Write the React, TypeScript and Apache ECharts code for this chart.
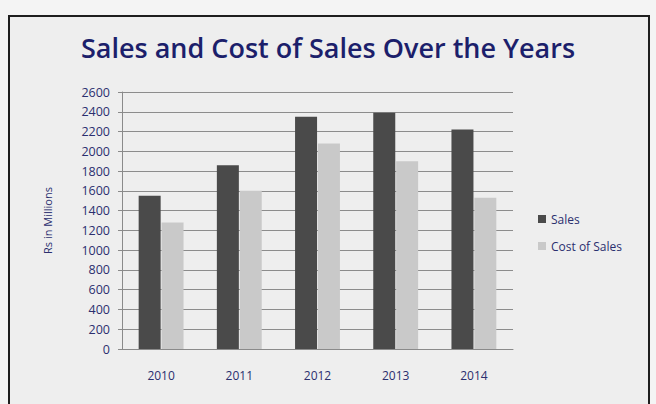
import React, { useEffect, useRef } from "react";
import * as echarts from "echarts";

const years = ["2010", "2011", "2012", "2013", "2014"];
const sales = [1550, 1860, 2350, 2390, 2220];
const costOfSales = [1280, 1600, 2080, 1900, 1530];
const seriesNames = ["Sales", "Cost of Sales"];

export default function App() {
  const ref = useRef<HTMLDivElement>(null);
  useEffect(() => {
    if (!ref.current) return;
    const chart = echarts.init(ref.current, undefined, { renderer: "svg" });
    const navy = "#2b2f6e";
    chart.setOption({
      animation: false,
      backgroundColor: "#f4f4f4",
      graphic: [
        {
          type: "rect",
          shape: { x: 9, y: 16, width: 640, height: 400 },
          style: { fill: "#eeeeee", stroke: "#1e1e1e", lineWidth: 2 },
          z: -10,
        },
      ],
      title: {
        text: "Sales and Cost of Sales Over the Years",
        left: "center",
        top: 29,
        textStyle: {
          fontFamily: "Open Sans",
          fontSize: 27,
          fontWeight: 600,
          color: "#1c1f6b",
        },
      },
      legend: {
        orient: "vertical",
        left: 533,
        top: 208,
        itemWidth: 8,
        itemHeight: 8,
        itemGap: 15,
        icon: "rect",
        textStyle: { fontFamily: "Open Sans", fontSize: 12, color: navy },
        data: seriesNames,
      },
      grid: { left: 122, right: 143, top: 92, bottom: 55 },
      xAxis: {
        type: "category",
        data: years,
        axisTick: { show: false },
        axisLine: { lineStyle: { color: "#8a8a8a" } },
        axisLabel: {
          margin: 20,
          fontFamily: "Open Sans",
          fontSize: 12,
          color: navy,
        },
      },
      yAxis: {
        type: "value",
        min: 0,
        max: 2600,
        interval: 200,
        name: "Rs in Millions",
        nameLocation: "middle",
        nameGap: 69,
        nameTextStyle: { fontFamily: "Open Sans", fontSize: 11, color: navy },
        axisLine: { show: true, lineStyle: { color: "#8a8a8a" } },
        axisTick: { show: true, length: 4, lineStyle: { color: "#8a8a8a" } },
        axisLabel: {
          margin: 12,
          fontFamily: "Open Sans",
          fontSize: 12.5,
          color: navy,
          formatter: (v: number) => String(v),
        },
        splitLine: { lineStyle: { color: "#8c8c8c", width: 1 } },
      },
      series: [
        {
          name: seriesNames[0],
          type: "bar",
          data: sales,
          barWidth: 22,
          barGap: "4%",
          itemStyle: { color: "#4a4a4a" },
        },
        {
          name: seriesNames[1],
          type: "bar",
          data: costOfSales,
          barWidth: 22,
          itemStyle: { color: "#c9c9c9" },
        },
      ],
    });
    return () => chart.dispose();
  }, []);
  return (
    <div
      ref={ref}
      style={{ position: "fixed", left: 0, top: 0, width: 656, height: 404 }}
    />
  );
}
